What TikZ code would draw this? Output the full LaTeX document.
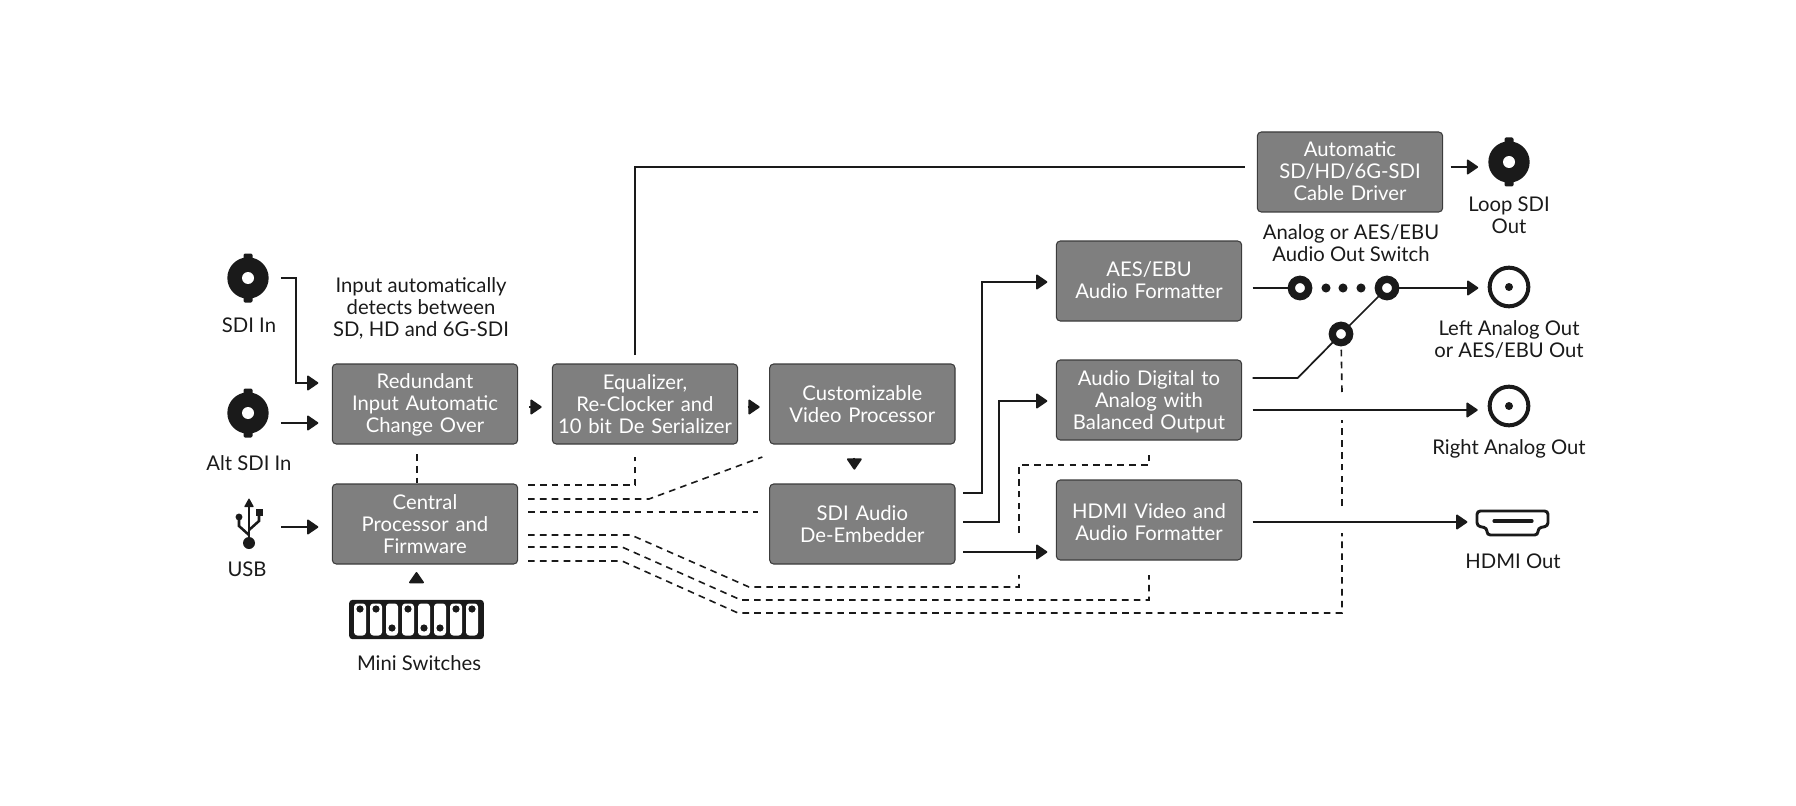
\documentclass[tikz,border=0pt]{standalone}
\usepackage{fontspec}
\setmainfont{Lato}
\usepackage{tikz}
\usetikzlibrary{arrows.meta,positioning,calc,shapes.geometric}
\definecolor{ink}{HTML}{1A1A1A}
\definecolor{boxgray}{HTML}{7F7F7F}

% connector macros
\newcommand{\bncicon}[2]{%
  \fill[ink, rounded corners=1pt] ($(#2)+(-4.5,-24.5)$) rectangle ($(#2)+(4.5,24.5)$);
  \node[bnc] (#1) at (#2) {};
}
\newcommand{\rcaicon}[2]{%
  \node[rca] (#1) at (#2) {};
  \fill[ink] (#1) circle (3pt);
}

\begin{document}
\begin{tikzpicture}[
    x=0.75pt, y=-0.75pt,
    font=\fontsize{15.2pt}{16.5pt}\selectfont,
    box/.style={rectangle, draw=ink!85, line width=0.8pt, fill=boxgray, text=white, text width=137pt, align=center, rounded corners=3pt, minimum width=139pt, minimum height=60pt, inner sep=0pt, outer sep=0pt},
    drop/.style={execute at begin node={\rule{0pt}{#1}}},
    lift/.style={execute at end node={\rule[-#1]{0pt}{#1}}},
    label/.style={text=ink, align=center, inner sep=0pt},
    arrow/.style={-{Triangle[length=9pt,width=12pt,round]}, line width=1.3pt, draw=ink},
    line/.style={line width=1.3pt, draw=ink},
    dashline/.style={line width=1.2pt, draw=ink, dash pattern=on 5pt off 3.9pt},
    bnc/.style={circle, fill=ink, minimum size=31pt, inner sep=0pt, path picture={\fill[white] (path picture bounding box.center) circle (4.5pt);}},
    rca/.style={circle, draw=ink, fill=white, line width=3pt, minimum size=29pt, inner sep=0pt},
    swnode/.style={circle, draw=ink, fill=white, line width=5.5pt, minimum size=13pt, inner sep=0pt},
    swdot/.style={circle, fill=ink, minimum size=6.8pt, inner sep=0pt},
    slot/.style={rectangle, fill=white, rounded corners=2.5pt, minimum width=9pt, minimum height=24pt, inner sep=0pt}
]
\useasboundingbox (0,0) rectangle (1796,806);

% Blocks
\node[box, drop=13pt] at (425,404) (redundant) {Redundant\\Input Automatic\\Change Over};
\node[box, right=26pt of redundant] (equalizer) {Equalizer,\\Re-Clocker and\\10 bit De Serializer};
\node[box, right=24pt of equalizer] (processor) {Customizable\\Video Processor};
\node[box, below=30pt of redundant] (central) {Central\\Processor and\\Firmware};
\node[box, below=30pt of processor] (embedder) {SDI Audio\\De-Embedder};
\node[box, lift=1.7pt] at (1149,281) (aesfmt) {AES/EBU\\Audio Formatter};
\node[box, drop=13.5pt] at (1149,400) (analogfmt) {Audio Digital to\\Analog with\\Balanced Output};
\node[box, drop=15pt] at (1149,520) (hdmifmt) {HDMI Video and\\Audio Formatter};
\node[box, lift=1.7pt] at (1350,172) (driver) {Automatic\\SD/HD/6G-SDI\\Cable Driver};

% Connectors
\bncicon{sdiin}{248,278}
\bncicon{altsdi}{248,413}
\bncicon{loopout}{1509,162}
\rcaicon{leftout}{1509,287}
\rcaicon{rightout}{1509,406}

% Labels
\node[label] at (249,325) (sdilabel) {SDI In};
\node[label] at (249,463) (altlabel) {Alt SDI In};
\node[label] at (247,569) (usblabel) {USB};
\node[label] at (419,663) (minilabel) {Mini Switches};
\node[label] at (421,308) (detectlabel) {Input automatically\\detects between\\SD, HD and 6G-SDI};
\node[label] at (1509,215) (looplabel) {Loop SDI\\Out};
\node[label] at (1351,243) (switchlabel) {Analog or AES/EBU\\Audio Out Switch};
\node[label] at (1509,339) (leftlabel) {Left Analog Out\\or AES/EBU Out};
\node[label] at (1509,449) (rightlabel) {Right Analog Out};
\node[label] at (1513,561) (hdmilabel) {HDMI Out};

% USB icon
\coordinate (usb) at (249,527);
\fill[ink] (249,543) circle (4.5pt);
\draw[line, line width=1.9pt] (249,543) -- (249,505);
\fill[ink, rounded corners=0.5pt] (249,498) -- (254,507) -- (244,507) -- cycle;
\draw[line, line width=1.9pt] (249,535) -- (239,526) -- (239,517);
\fill[ink] (239,517) circle (2.6pt);
\draw[line, line width=1.9pt] (249,530) -- (259,521) -- (259,512);
\fill[ink] (255.5,508.5) rectangle (262.5,515.5);

% Mini switches
\node[rectangle, fill=ink, rounded corners=2.5pt, minimum width=101pt, minimum height=29.5pt, inner sep=0pt] at (416.5,619.5) (switches) {};
\foreach \px/\py in {360/609,376/609,392/628,408/609,424/628,440/628,456/609,472/609} {
  \node[slot] at (\px,619.5) {};
  \fill[ink] (\px,\py) circle (2.7pt);
}

% HDMI icon
\node[minimum width=54pt, minimum height=20pt, inner sep=0pt] at (1513,523) (hdmi) {};
\draw[ink, line width=2.2pt, rounded corners=2.5pt] (1477,511) -- (1548,511) -- (1548,526) -- (1538,528) -- (1538,535) -- (1487,535) -- (1487,528) -- (1477,526) -- cycle;
\draw[ink, line width=2.4pt, line cap=round] (1494,521) -- (1532,521);

% Audio out switch
\node[swnode] at (1300,288) (swa) {};
\node[swnode] at (1387,288) (swb) {};
\node[swnode] at (1341,334) (swc) {};
\foreach \px [count=\i] in {1326,1343,1361} \node[swdot] at (\px,288) (swdot\i) {};

% Arrows
\draw[arrow] ([xshift=9pt]sdiin.east) -- ++(11.25pt,0) |- ([xshift=-10.5pt,yshift=15.75pt]redundant.west);
\draw[arrow] ([xshift=9pt,yshift=-7.5pt]altsdi.east) -- ([xshift=-10.5pt,yshift=-14.25pt]redundant.west);
\draw[arrow] ([xshift=24pt]usb) -- ([xshift=-10.5pt,yshift=-2.25pt]central.west);
\draw[arrow, shorten <=8.5pt, shorten >=8pt] ([yshift=-2.25pt]redundant.east) -- ([yshift=-2.25pt]equalizer.west);
\draw[arrow, shorten <=7.5pt, shorten >=7.5pt] ([yshift=-2.25pt]equalizer.east) -- ([yshift=-2.25pt]processor.west);
\draw[arrow, shorten <=10.25pt, shorten >=10.75pt] ([xshift=-6pt]processor.south) -- ([xshift=-6pt]embedder.north);
\draw[arrow, shorten <=13.5pt, shorten >=6pt] (switches.north) -- (switches.north |- central.south);
\draw[line] ([xshift=-7.5pt,yshift=6.75pt]equalizer.north) |- ([xshift=-9pt,yshift=3.75pt]driver.west);
\draw[arrow] ([xshift=6pt,yshift=3.75pt]driver.east) -- ([xshift=-7.5pt,yshift=-3.75pt]loopout.west);
\draw[arrow] ([xshift=6pt,yshift=23.25pt]embedder.east) -- ++(14.25pt,0) |- ([xshift=-6.75pt,yshift=-0.75pt]aesfmt.west);
\draw[arrow] ([xshift=6pt,yshift=1.5pt]embedder.east) -- ++(27pt,0) |- ([xshift=-6.75pt,yshift=-0.75pt]analogfmt.west);
\draw[arrow] ([xshift=6pt,yshift=-21pt]embedder.east) -- ([xshift=-6.75pt,yshift=-24pt]hdmifmt.west);
\draw[line] ([xshift=8.25pt,yshift=-5.25pt]aesfmt.east) -- (swa);
\draw[arrow] (swb) -- ([xshift=-7pt,yshift=-0.75pt]leftout.west);
\draw[line] ([xshift=8.25pt,yshift=16.5pt]analogfmt.east) -- ++(33.75pt,0) -- (swc) -- (swb);
\draw[arrow] ([xshift=8.25pt,yshift=-7.5pt]analogfmt.east) -- ([xshift=-7.5pt,yshift=-3pt]rightout.west);
\draw[arrow] ([xshift=8.25pt,yshift=-1.5pt]hdmifmt.east) -- ([xshift=-7pt,yshift=0.75pt]hdmi.west);

% Control lines
\coordinate (ctla) at (528,485);
\coordinate (ctlb) at (528,499);
\coordinate (ctlc) at (528,512);
\coordinate (ctld) at (528,535);
\coordinate (ctle) at (528,547);
\coordinate (ctlf) at (528,561);
\draw[dashline] ([xshift=-6pt,yshift=-7.5pt]redundant.south) -- ([xshift=-6pt,yshift=0.75pt]central.north);
\draw[dashline] (ctla) -| ([xshift=-7.5pt,yshift=-9.75pt]equalizer.south);
\draw[dashline] (ctlb) -- (649,499) -- ([xshift=-75pt,yshift=-9.75pt]processor.south);
\draw[dashline] (ctlc) -- ([xshift=-9pt]embedder.west |- ctlc);
\draw[dashline] (ctld) -- (631,535) -- (749,587) -- (1019,587) -- (1019,575);
\draw[dashline] (1019,533) -- (1019,465) -| ([yshift=-10pt]analogfmt.south);
\draw[dashline] (ctle) -- (622,547) -- (741,600) -| ([yshift=-11.25pt]hdmifmt.south);
\draw[dashline] (ctlf) -- (622,561) -- (738,613) -- (1342,613) -- (1342,533);
\draw[dashline] (1342,506) -- (1342,420);
\draw[dashline] (1342,392) -- (swc);

\end{tikzpicture}
\end{document}
